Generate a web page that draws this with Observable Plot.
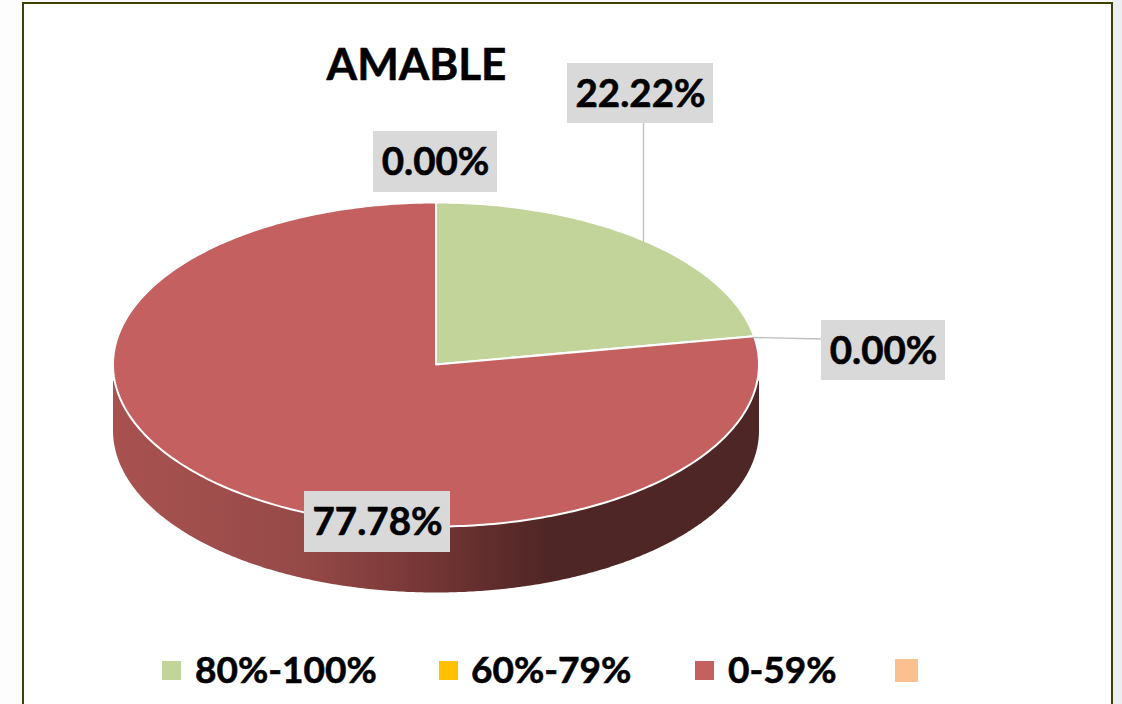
<!DOCTYPE html>
<html>
<head>
<meta charset="utf-8">
<script src="https://cdn.jsdelivr.net/npm/d3@7"></script>
<script src="https://cdn.jsdelivr.net/npm/@observablehq/plot@0.6"></script>
<style>
  html, body { margin: 0; padding: 0; width: 1122px; height: 704px; overflow: hidden; background: #fdfdfe; }
  #strip { position: absolute; left: 1112px; top: 0; width: 10px; height: 704px; background: #eceef1; }
  #frame { position: absolute; left: 22px; top: 2px; width: 1090.5px; height: 740px; box-sizing: border-box; border: 2.6px solid #3f3f08; background: #fff; }
  #chart { position: absolute; left: 0; top: 0; }
  #chart svg { background: none; display: block; }
  #legend { position: absolute; left: 0; top: 640px; width: 1122px; height: 64px; font: 700 37px Lato, sans-serif; color: #000; -webkit-text-stroke: 0.6px #000; }
  .sw { position: absolute; }
  .lb { position: absolute; top: 7px; line-height: 44px; white-space: nowrap; }
</style>
</head>
<body>
<div id="strip"></div>
<div id="frame"></div>
<div id="chart"></div>
<div id="legend"></div>
<script>
const title = "AMABLE";
const categories = ["80%-100%", "60%-79%", "0-59%", ""];
const shares = [22.22, 0, 77.78, 0];
const colors = ["#c2d49a", "#ffc000", "#c46160", "#fac090"];

const W = 1122, H = 640;
const xRange = [112.5, 758.5], yRange = [526, 202];
const ux = d3.scaleLinear(xRange, [-1, 1]);
const uy = d3.scaleLinear(yRange, [-1, 1]);
const depth = 66 / 162;

// Cumulative pie layout, clockwise from 12 o'clock
let cum = 0;
const slices = categories.map((c, i) => {
  const start = cum / 100 * 2 * Math.PI;
  cum += shares[i];
  return {category: c, value: shares[i], start, end: cum / 100 * 2 * Math.PI};
});

// Outlines of the projected slices
const topPoints = slices.filter(s => s.value > 0).flatMap(s => {
  const n = Math.ceil(s.value * 4);
  const arc = d3.range(n + 1).map(k => {
    const a = s.start + (s.end - s.start) * k / n;
    return {category: s.category, px: Math.sin(a), py: Math.cos(a)};
  });
  return [{category: s.category, px: 0, py: 0}, ...arc, {category: s.category, px: 0, py: 0}];
});

// Wall of the disc
const R = 1, edge = -0.1;
const wall = [
  {px: -R, py: edge},
  ...d3.range(0, 361).map(k => {
    const a = Math.PI + Math.PI * k / 360;
    return {px: R * Math.cos(a), py: Math.sin(a) - depth};
  }),
  {px: R, py: edge}
];

// Data labels: value read from shares, box placement in the chart's frame
const fmt = v => v.toFixed(2) + "%";
const labelBoxes = [
  {i: 0, l: 567, r: 713, t: 63, b: 123},
  {i: 1, l: 821, r: 945, t: 320, b: 380},
  {i: 2, l: 304, r: 450, t: 491, b: 552},
  {i: 3, l: 373, r: 497, t: 131, b: 192}
].map(d => ({
  text: fmt(shares[d.i]),
  x1: ux(d.l), x2: ux(d.r), y1: uy(d.t), y2: uy(d.b),
  cx: ux((d.l + d.r) / 2), cy: uy((d.t + d.b) / 2)
}));
const leaders = [
  {k: 0, px: ux(643), py: uy(123)}, {k: 0, px: ux(643), py: uy(241)},
  {k: 1, px: ux(753), py: uy(337)}, {k: 1, px: ux(821), py: uy(338.5)}
];

const defs = (index, scales, values, dims, context) => {
  const d = d3.select(context.document.createElementNS("http://www.w3.org/2000/svg", "defs"));
  const g = d.append("linearGradient").attr("id", "wallGrad").attr("x1", 0).attr("x2", 1).attr("y1", 0).attr("y2", 0);
  [[0, "#a85250"], [0.29, "#964a48"], [0.45, "#7c3a39"], [0.6, "#5d2c2b"], [0.68, "#4e2625"], [1, "#4e2625"]]
    .forEach(([o, c]) => g.append("stop").attr("offset", o).attr("stop-color", c));
  return d.node();
};

const chart = Plot.plot({
  width: W, height: H,
  margin: 0,
  style: {background: "none", overflow: "visible"},
  x: {domain: [-1, 1], range: xRange, axis: null},
  y: {domain: [-1, 1], range: yRange, axis: null},
  color: {domain: categories, range: colors, legend: false},
  marks: [
    defs,
    Plot.line(wall, {x: "px", y: "py", fill: "url(#wallGrad)", stroke: "none"}),
    Plot.line(topPoints, {x: "px", y: "py", z: "category", fill: "category", stroke: "#fff", strokeWidth: 2, strokeLinejoin: "round"}),
    Plot.line(leaders, {x: "px", y: "py", z: "k", stroke: "#bfbfbf", strokeWidth: 1.3}),
    Plot.rect(labelBoxes, {x1: "x1", x2: "x2", y1: "y1", y2: "y2", fill: "#d9d9d9"}),
    Plot.text(labelBoxes, {x: "cx", y: "cy", dy: 1, text: "text", fill: "#000", stroke: "#000", strokeWidth: 0.6, fontFamily: "Lato, sans-serif", fontWeight: 700, fontSize: 38.5}),
    Plot.text([title], {x: ux(416), y: uy(65), text: d => d, fill: "#000", stroke: "#000", strokeWidth: 0.6, fontFamily: "Lato, sans-serif", fontWeight: 700, fontSize: 44})
  ]
});
document.getElementById("chart").append(chart);

const swatches = [
  {l: 162, t: 21, s: 19, tx: 195},
  {l: 439, t: 21, s: 19, tx: 471},
  {l: 695, t: 21, s: 19, tx: 728},
  {l: 895, t: 19, s: 23, tx: null}
];
const legend = document.getElementById("legend");
categories.forEach((c, i) => {
  const p = swatches[i];
  const sw = document.createElement("div");
  sw.className = "sw";
  sw.style.cssText = `left:${p.l}px;top:${p.t}px;width:${p.s}px;height:${p.s}px;background:${colors[i]}`;
  legend.append(sw);
  if (c) {
    const t = document.createElement("div");
    t.className = "lb";
    t.style.left = p.tx + "px";
    t.textContent = c;
    legend.append(t);
  }
});
</script>
</body>
</html>
